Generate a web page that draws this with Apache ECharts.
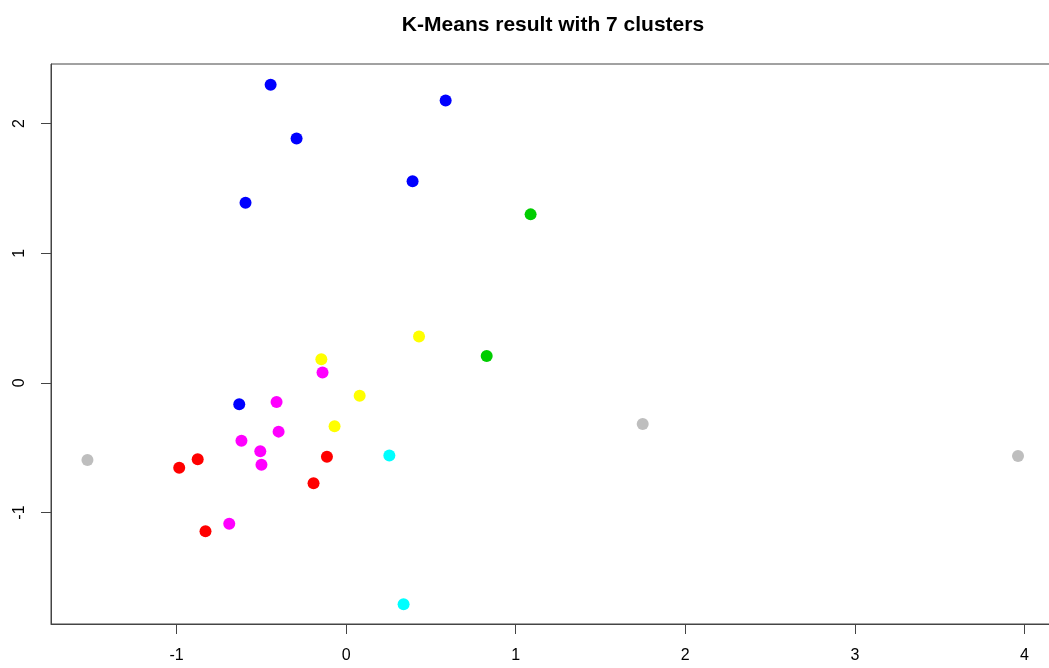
<!DOCTYPE html>
<html>
<head>
<meta charset="utf-8">
<script src="https://cdn.jsdelivr.net/npm/echarts@6/dist/echarts.min.js"></script>
<style>
  html, body { margin: 0; padding: 0; background: #ffffff; overflow: hidden; }
  #chart { width: 1070px; height: 668px; }
</style>
</head>
<body>
<div id="chart"></div>
<script>
// Points of each K-Means cluster as [x, y]
const clusterRed     = [[-0.875, -0.589], [-0.984, -0.654], [-0.113, -0.569], [-0.192, -0.775], [-0.829, -1.145]];
const clusterGreen   = [[1.088, 1.300], [0.829, 0.208]];
const clusterBlue    = [[-0.445, 2.300], [0.587, 2.178], [-0.292, 1.886], [0.392, 1.556], [-0.593, 1.390], [-0.630, -0.164]];
const clusterCyan    = [[0.255, -0.561], [0.339, -1.707]];
const clusterMagenta = [[-0.139, 0.080], [-0.410, -0.147], [-0.398, -0.376], [-0.617, -0.446], [-0.506, -0.527], [-0.499, -0.631], [-0.689, -1.086]];
const clusterYellow  = [[0.430, 0.358], [-0.146, 0.183], [0.080, -0.100], [-0.068, -0.334]];
const clusterGray    = [[-1.525, -0.595], [1.749, -0.317], [3.962, -0.564]];

const clusterNames  = ['1', '2', '3', '4', '5', '6', '7'];
const clusterColors = ['#FF0000', '#00CD00', '#0000FF', '#00FFFF', '#FF00FF', '#FFFF00', '#BEBEBE'];
const clusterData   = [clusterRed, clusterGreen, clusterBlue, clusterCyan, clusterMagenta, clusterYellow, clusterGray];

const xTicks = [-1, 0, 1, 2, 3, 4];
const yTicks = [-1, 0, 1, 2];

const chart = echarts.init(document.getElementById('chart'), null, { renderer: 'canvas' });

const axisFont = { fontFamily: 'Liberation Sans, Arial, sans-serif', fontSize: 16, color: '#000' };

chart.setOption({
  backgroundColor: '#ffffff',
  animation: false,
  title: {
    text: 'K-Means result with 7 clusters',
    left: 548,
    top: 10,
    textAlign: 'center',
    textStyle: { fontFamily: 'Liberation Sans, Arial, sans-serif', fontSize: 21, fontWeight: 'bold', color: '#000' }
  },
  grid: {
    left: 51, top: 64, width: 1004, height: 560,
    show: true, borderColor: '#444', borderWidth: 1, backgroundColor: 'transparent'
  },
  xAxis: {
    type: 'value', min: -1.74, max: 4.18,
    splitLine: { show: false },
    axisLine: { show: true, onZero: false, lineStyle: { color: '#444', width: 1 } },
    axisTick: { show: true, length: 10, customValues: xTicks, lineStyle: { color: '#444' } },
    axisLabel: { ...axisFont, margin: 24, customValues: xTicks, showMinLabel: true, showMaxLabel: true }
  },
  yAxis: {
    type: 'value', min: -1.86, max: 2.46,
    splitLine: { show: false },
    axisLine: { show: true, onZero: false, lineStyle: { color: '#444', width: 1 } },
    axisTick: { show: true, length: 10, customValues: yTicks, lineStyle: { color: '#444' } },
    axisLabel: { ...axisFont, rotate: 90, margin: 23, customValues: yTicks }
  },
  series: clusterData.map((pts, i) => ({
    name: clusterNames[i],
    type: 'scatter',
    symbol: 'circle',
    symbolSize: 12,
    itemStyle: { color: clusterColors[i], opacity: 1 },
    data: pts
  }))
});
</script>
</body>
</html>
